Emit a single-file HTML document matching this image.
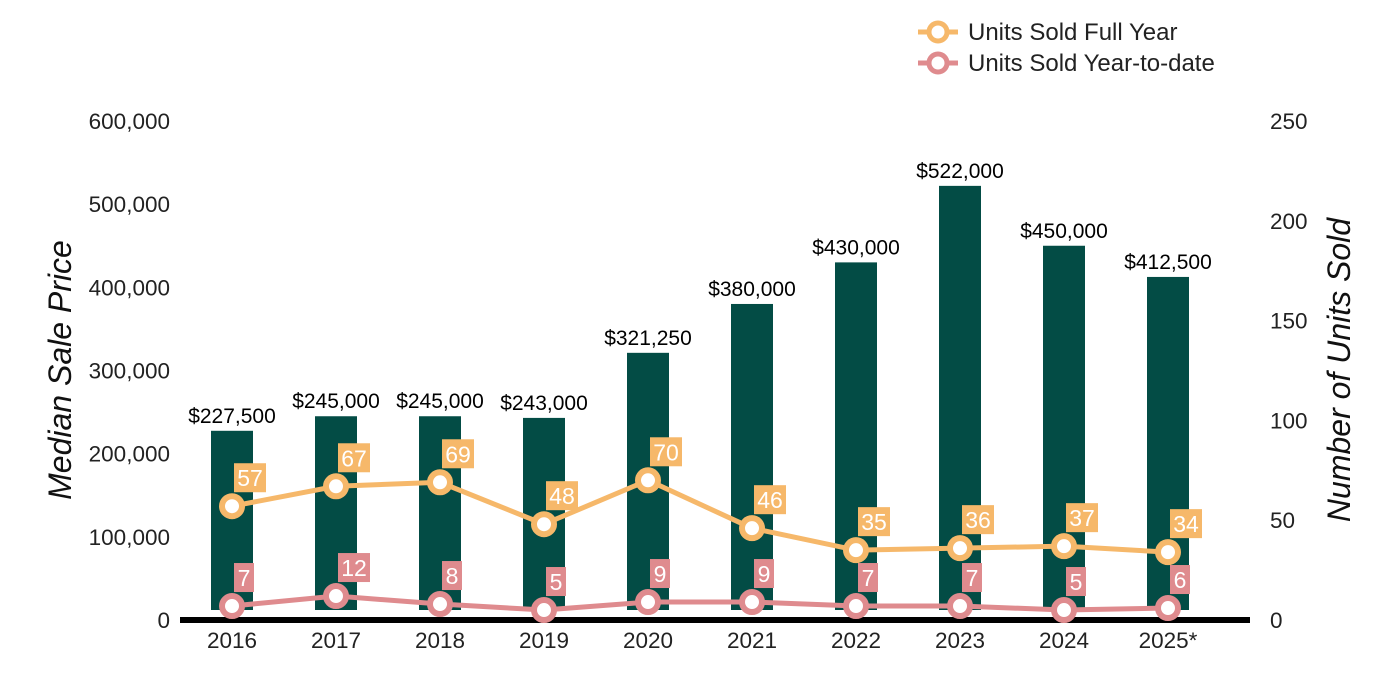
<!DOCTYPE html>
<html><head><meta charset="utf-8"><style>
body{margin:0;background:#fff;}
svg{display:block;font-family:"Liberation Sans",Arial,sans-serif;}
</style></head><body>
<svg id="chart" width="1400" height="700"></svg>
<script>
const years=["2016","2017","2018","2019","2020","2021","2022","2023","2024","2025*"];
const prices=[227500,245000,245000,243000,321250,380000,430000,522000,450000,412500];
const fullYear=[57,67,69,48,70,46,35,36,37,34];
const ytd=[7,12,8,5,9,9,7,7,5,6];
const leftTicks=[0,100000,200000,300000,400000,500000,600000];
const rightTicks=[0,50,100,150,200,250];

const NS="http://www.w3.org/2000/svg";
const svg=document.getElementById('chart');
const y0=620,yTop=121;
const yL=v=>y0-(v/600000)*(y0-yTop);
const yR=v=>y0-(v/250)*(y0-yTop);
const xC=i=>232+i*104;
function mk(tag,attrs,parent){const e=document.createElementNS(NS,tag);for(const k in attrs)e.setAttribute(k,attrs[k]);(parent||svg).appendChild(e);return e;}
const fmt=n=>n.toLocaleString('en-US');

leftTicks.forEach(t=>{const e=mk('text',{x:170,y:yL(t)+8,'text-anchor':'end','font-size':22.5,fill:'#222'});e.textContent=fmt(t);

});
rightTicks.forEach(t=>{const e=mk('text',{x:1270,y:yR(t)+8,'font-size':22.5,fill:'#222'});e.textContent=t;

});

let ta=mk('text',{transform:'translate(71,370) rotate(-90)','text-anchor':'middle','font-size':32,'font-style':'italic',fill:'#111'});ta.textContent='Median Sale Price';


let tb=mk('text',{transform:'translate(1350,370) rotate(-90)','text-anchor':'middle','font-size':32,'font-style':'italic',fill:'#111'});tb.textContent='Number of Units Sold';



prices.forEach((p,i)=>{
 const r=mk('rect',{x:xC(i)-21,y:yL(p),width:42,height:610-yL(p),fill:'#034c45'});
 
 
 const t=mk('text',{x:xC(i),y:yL(p)-8,'text-anchor':'middle','font-size':21,fill:'#000'});t.textContent='$'+fmt(p);
 
 
 const yl=mk('text',{x:xC(i),y:648,'text-anchor':'middle','font-size':22.5,fill:'#222'});yl.textContent=years[i];
 
 
});
const ax=mk('line',{x1:180,x2:1250,y1:620,y2:620,stroke:'#000','stroke-width':6});



function series(vals,color,name){
 const pts=vals.map((v,i)=>xC(i)+','+yR(v)).join(' ');
 const l=mk('polyline',{points:pts,fill:'none',stroke:color,'stroke-width':5});
 
 
 vals.forEach((v,i)=>{
  const cx=xC(i),cy=yR(v);
  const c=mk('circle',{cx:cx,cy:cy,r:10,fill:'#fff',stroke:color,'stroke-width':6});
  
  
  const w=String(v).length>1?32:20;
  const b=mk('rect',{x:cx+2,y:cy-43,width:w,height:29,fill:color});
  
  
  const t=mk('text',{x:cx+2+w/2,y:cy-20,'text-anchor':'middle','font-size':23,fill:'#fff'});t.textContent=v;
  
  
 });
}
series(fullYear,'#f6b86a','units-full-year');
series(ytd,'#df8b8e','units-ytd');

[['Units Sold Full Year','#f6b86a',32],['Units Sold Year-to-date','#df8b8e',63]].forEach(([lab,col,y])=>{
 const g=mk('g',{});
 
 
 mk('line',{x1:918,x2:958,y1:y,y2:y,stroke:col,'stroke-width':5},g);
 mk('circle',{cx:938,cy:y,r:9,fill:'#fff',stroke:col,'stroke-width':5},g);
 const t=mk('text',{x:968,y:y+8,'font-size':24,fill:'#222'},g);t.textContent=lab;
});
</script>
</body></html>
